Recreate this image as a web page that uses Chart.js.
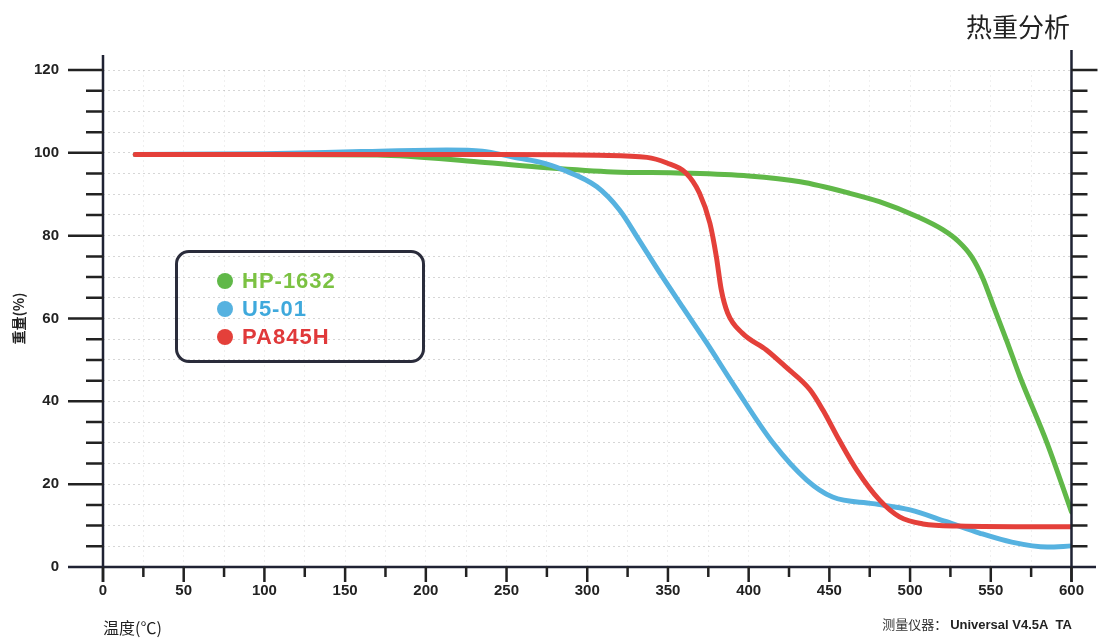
<!DOCTYPE html>
<html>
<head>
<meta charset="utf-8">
<script src="https://cdn.jsdelivr.net/npm/chart.js@4/dist/chart.umd.min.js"></script>
<style>
  body { margin: 0; background: #fff; }
  #wrap { position: relative; width: 1099px; height: 639px; }
  #title { position: absolute; right: 29px; top: 7px; font: 26px "Noto Sans CJK SC", sans-serif; color: #222; }
  #foot { position: absolute; right: 27px; top: 614px; font: 13px "Noto Sans CJK SC", "Liberation Sans", sans-serif; color: #333; }
  #foot b { font-family: "Liberation Sans", sans-serif; color: #222; }
  #legend { position: absolute; left: 175px; top: 250px; width: 244px; height: 107px; border: 3px solid #2a2c3b; border-radius: 14px; }
  .item { position: absolute; left: 39px; font: bold 22px "Liberation Sans", sans-serif; letter-spacing: 1px; line-height: 24px; }
  .item i { position: absolute; left: 0; top: 4px; width: 16px; height: 16px; border-radius: 50%; }
  .item span { margin-left: 25px; }
</style>
</head>
<body>
<div id="wrap">
  <canvas id="tga"></canvas>
  <div id="title">热重分析</div>
  <div id="legend"></div>
  <div id="foot">测量仪器：&nbsp;<b>Universal V4.5A&nbsp; TA</b></div>
</div>
<script>
// 温度 (°C) / 重量 (%)
const seriesNames = ["HP-1632", "U5-01", "PA845H"];
const lineColors = ["#60b848", "#56b2e0", "#e4403a"];
const legendTextColors = ["#7bc242", "#3fa9dc", "#e0393a"];

const hpTemp = [20, 100, 170, 233, 275, 316, 360, 400, 432, 462, 481, 505, 520, 530, 538, 545, 552, 560, 568, 585, 600];
const hpWeight = [99.6, 99.6, 99.5, 97.8, 96.4, 95.4, 95.1, 94.4, 93.0, 90.3, 88.2, 84.5, 81.5, 78.6, 75.0, 69.8, 62.6, 54.5, 46.0, 29.8, 13.3];

const u5Temp = [20, 100, 160, 213, 235, 254, 270, 285, 306, 320, 332, 345, 359, 374, 392, 415, 436, 452, 477, 500, 522, 543, 563, 585, 600];
const u5Weight = [99.6, 99.8, 100.3, 100.7, 100.4, 99.0, 97.8, 95.9, 91.8, 86.2, 79.0, 71.0, 62.8, 54.1, 43.2, 30.0, 21.0, 16.9, 15.3, 13.8, 11.0, 8.2, 6.0, 4.8, 5.1];

const paTemp = [20, 150, 250, 307, 337, 349, 361, 369.5, 376, 380, 383, 387, 396, 411, 423, 438, 446, 456, 467, 481, 493.5, 508, 530, 600];
const paWeight = [99.6, 99.6, 99.6, 99.4, 98.9, 97.6, 95.2, 90.3, 83.0, 74.9, 67.0, 61.3, 56.5, 52.4, 48.3, 42.8, 37.9, 30.7, 23.4, 16.2, 12.1, 10.4, 9.9, 9.7];

const xMin = 0, xMax = 600, xStep = 25, xLabelStep = 50;
const yMin = 0, yMax = 120, yStep = 5, yLabelStep = 20;

function toPoints(xs, ys) {
  return xs.map((x, i) => ({ x: x, y: ys[i] }));
}

// legend box
const legendEl = document.getElementById("legend");
seriesNames.forEach((name, i) => {
  const d = document.createElement("div");
  d.className = "item";
  d.style.top = (16 + i * 28) + "px";
  d.style.color = legendTextColors[i];
  d.innerHTML = `<i style="background:${lineColors[i]}"></i><span>${name}</span>`;
  legendEl.appendChild(d);
});

const axisColor = "#1f2233";

// axis lines and tick marks of two lengths, placed from the scales
const axisPlugin = {
  id: "axisMarks",
  afterDraw(chart) {
    const { ctx, chartArea: a, scales: { x, y } } = chart;
    ctx.save();
    ctx.strokeStyle = axisColor;
    ctx.lineWidth = 2.5;
    ctx.beginPath();
    ctx.moveTo(a.left, 55); ctx.lineTo(a.left, a.bottom + 15);
    ctx.moveTo(a.right, 50); ctx.lineTo(a.right, a.bottom + 15);
    ctx.moveTo(a.left - 35, a.bottom); ctx.lineTo(1096, a.bottom);
    ctx.stroke();

    ctx.strokeStyle = "#222";
    ctx.beginPath();
    for (let v = yMin + yStep; v <= yMax; v += yStep) {
      const py = y.getPixelForValue(v);
      const major = v % yLabelStep === 0;
      ctx.moveTo(a.left, py); ctx.lineTo(a.left - (major ? 35 : 17), py);
      ctx.moveTo(a.right, py); ctx.lineTo(a.right + (v === yMax ? 26 : 16), py);
    }
    for (let v = xMin; v <= xMax; v += xStep) {
      const px = x.getPixelForValue(v);
      ctx.moveTo(px, a.bottom); ctx.lineTo(px, a.bottom + (v % xLabelStep === 0 ? 15 : 10));
    }
    ctx.stroke();
    ctx.restore();
  }
};

const tickFont = { family: "'Liberation Sans', sans-serif", size: 15, weight: "bold" };

new Chart(document.getElementById("tga"), {
  type: "line",
  data: {
    datasets: [
      { label: seriesNames[0], data: toPoints(hpTemp, hpWeight), borderColor: lineColors[0], order: 3 },
      { label: seriesNames[1], data: toPoints(u5Temp, u5Weight), borderColor: lineColors[1], order: 2 },
      { label: seriesNames[2], data: toPoints(paTemp, paWeight), borderColor: lineColors[2], order: 1 },
    ],
  },
  options: {
    responsive: true,
    maintainAspectRatio: false,
    animation: false,
    layout: { padding: { top: 70, right: 27, bottom: 0, left: 0 } },
    elements: {
      line: { borderWidth: 5, cubicInterpolationMode: "monotone", borderCapStyle: "round", fill: false },
      point: { radius: 0 },
    },
    plugins: { legend: { display: false }, tooltip: { enabled: false } },
    scales: {
      x: {
        type: "linear",
        min: xMin,
        max: xMax,
        ticks: {
          stepSize: xStep,
          autoSkip: false,
          maxRotation: 0,
          padding: 15,
          color: "#222",
          font: tickFont,
          callback: (v) => (v % xLabelStep === 0 ? v : ""),
        },
        grid: { drawTicks: false, color: "rgba(0,0,0,0.06)" },
        border: { display: false, dash: [2, 3] },
        title: {
          display: true,
          text: "温度(℃)",
          align: "start",
          color: "#222",
          font: { family: "'Noto Sans CJK SC', sans-serif", size: 16 },
          padding: { top: 0, bottom: 1 },
        },
        afterFit(s) { s.height = 72; },
      },
      y: {
        min: yMin,
        max: yMax,
        ticks: {
          stepSize: yStep,
          autoSkip: false,
          padding: 44,
          color: "#222",
          font: tickFont,
          callback: (v) => (v % yLabelStep === 0 ? v : ""),
        },
        grid: { drawTicks: false, color: "rgba(0,0,0,0.16)" },
        border: { display: false, dash: [2, 3] },
        title: {
          display: true,
          text: "重量(%)",
          color: "#222",
          font: { family: "'Noto Sans CJK SC', sans-serif", size: 14, weight: "bold" },
          padding: { top: 10, bottom: 0 },
        },
        afterFit(s) { s.width = 103; },
      },
    },
  },
  plugins: [axisPlugin],
});
</script>
</body>
</html>
